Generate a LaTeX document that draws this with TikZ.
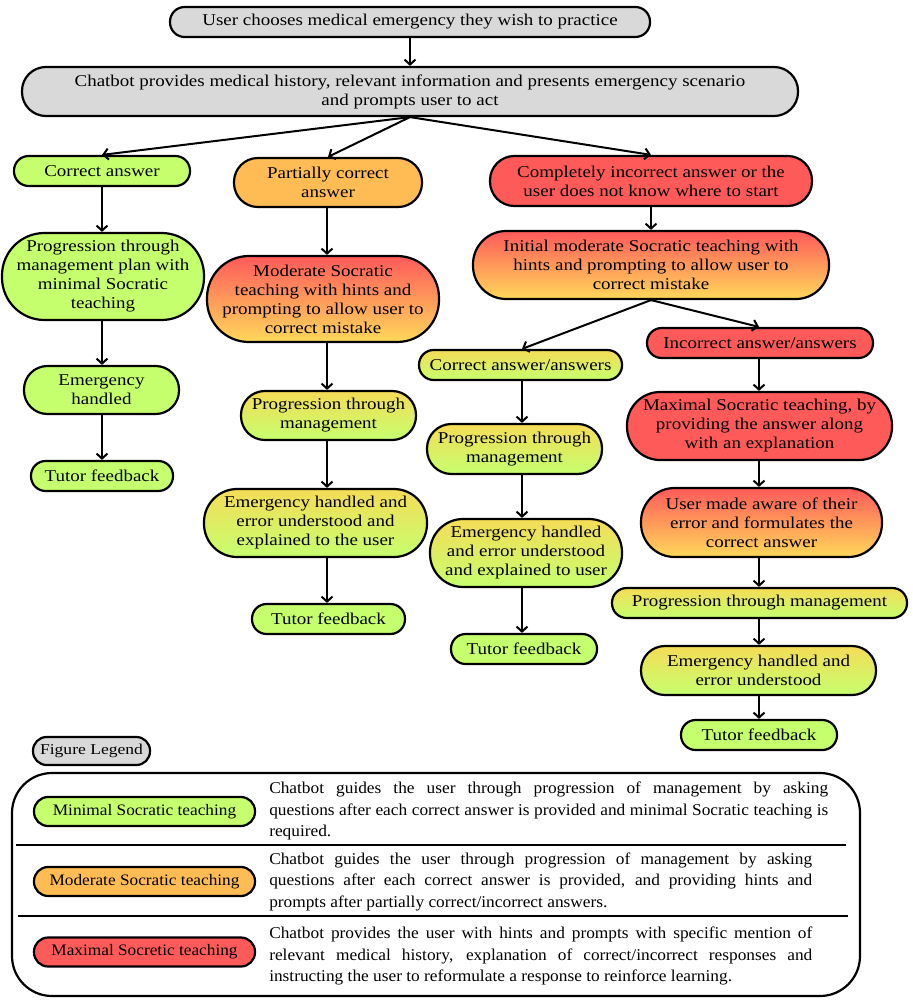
\documentclass[tikz,border=0pt]{standalone}
\usepackage{fontspec}
\setmainfont{Liberation Serif}
\newfontfamily\serf{Liberation Serif}
\usetikzlibrary{arrows.meta}
\definecolor{grayc}{HTML}{D9D9D9}
\definecolor{greenc}{HTML}{C6FF6E}
\definecolor{orangec}{HTML}{FFBC55}
\definecolor{redc}{HTML}{FF5A5A}
\definecolor{yellowc}{HTML}{FFD85A}
\definecolor{ylwc}{HTML}{F5DC57}
% one picture unit = 0.8pt
\newcommand\mainsz{\serf\fontsize{13.2}{15.2}\selectfont\addfontfeatures{FakeStretch=1.15}}
\newcommand\legsz{\serf\fontsize{13.2}{17.2}\selectfont\addfontfeatures{FakeStretch=1.05}}
\newcommand\labsz{\serf\fontsize{12.8}{12.8}\selectfont\addfontfeatures{FakeStretch=1.08}}
\newcommand\figsz{\serf\fontsize{12}{12}\selectfont\addfontfeatures{FakeStretch=1.17}}
\tikzset{
  pill/.style 2 args={draw=black, line width=1.76pt, align=center, inner sep=0pt,
    minimum width=#1*0.8pt, minimum height=#2*0.8pt, rounded corners=#2*0.39pt, font=\mainsz},
  fgray/.style={fill=grayc},
  fgreen/.style={fill=greenc},
  forange/.style={fill=orangec},
  fred/.style={fill=redc},
  rg/.style={top color=redc, bottom color=yellowc},
  yg/.style={top color=ylwc, bottom color=greenc},
  arr/.style={-{Straight Barb[length=4pt,width=8.8pt]}, line width=1.6pt},
  sep/.style={line width=1.9pt},
  legtext/.style={inner sep=0pt, align=justify, font=\legsz}
}
\begin{document}
\begin{tikzpicture}[x=0.8pt,y=-0.8pt]
\useasboundingbox (0,0) rectangle (913,1007);
% column coordinates
\coordinate (c1) at (102,0);
\coordinate (c2) at (327,0);
\coordinate (c3) at (522,0);
\coordinate (c4) at (759,0);
% nodes
\node[pill={480}{30}, fgray] (n1) at (410,22) {User chooses medical emergency they wish to practice};
\node[pill={776}{49}, fgray] (n2) at (410,91.5) {Chatbot provides medical history, relevant information and presents emergency scenario\\and prompts user to act};
\node[pill={176}{30}, fgreen] (n3) at (102,171) {Correct answer};
\node[pill={188}{49}, forange] (n4) at (328,182.5) {Partially correct\\answer};
\node[pill={322}{50}, fred] (n5) at (651,181) {Completely incorrect answer or the\\user does not know where to start};
\node[pill={202}{87}, fgreen] (n6) at (103,276.5) {Progression through\\management plan with\\minimal Socratic\\teaching};
\node[pill={232}{86}, rg] (n7) at (323,299) {Moderate Socratic\\teaching with hints and\\prompting to allow user to\\correct mistake};
\node[pill={356}{68}, rg] (n8) at (651,265) {Initial moderate Socratic teaching with\\hints and prompting to allow user to\\correct mistake};
\node[pill={203}{30}, yg] (n9) at (520.5,365) {Correct answer/answers};
\node[pill={226}{30}, fred] (n10) at (760,343) {Incorrect answer/answers};
\node[pill={155}{48}, fgreen] (n11) at (101.5,390) {Emergency\\handled};
\node[pill={175}{49}, yg] (n12) at (328.5,415.5) {Progression through\\management};
\node[pill={175}{50}, yg] (n13) at (514.5,449) {Progression through\\management};
\node[pill={265}{68}, fred] (n14) at (759.5,426) {Maximal Socratic teaching, by\\providing the answer along\\with an explanation};
\node[pill={142}{30}, fgreen] (n15) at (102,476) {Tutor feedback};
\node[pill={223}{68}, yg] (n16) at (315.5,523) {Emergency handled and\\error understood and\\explained to the user};
\node[pill={192}{68}, yg] (n17) at (526,553) {Emergency handled\\and error understood\\and explained to user};
\node[pill={241}{69}, rg] (n18) at (761.5,522.5) {User made aware of their\\error and formulates the\\correct answer};
\node[pill={295}{30}, yg] (n19) at (759.5,603) {Progression through management};
\node[pill={153}{30}, fgreen] (n20) at (328.5,619) {Tutor feedback};
\node[pill={146}{30}, fgreen] (n21) at (524,649) {Tutor feedback};
\node[pill={235}{49}, yg] (n22) at (758.5,670.5) {Emergency handled and\\error understood};
\node[pill={156}{30}, fgreen] (n23) at (759,735) {Tutor feedback};
% arrows
\draw[arr] (n1) -- (n2);
\draw[arr] (n2.south) -- (n3.north);
\draw[arr] (n2.south) -- (n4.north);
\draw[arr] (n2.south) -- (n5.north);
\draw[arr] (n3.south -| c1) -- (n6.north -| c1);
\draw[arr] (n6.south -| c1) -- (n11.north -| c1);
\draw[arr] (n11.south -| c1) -- (n15.north -| c1);
\draw[arr] (n4.south -| c2) -- (n7.north -| c2);
\draw[arr] (n7.south -| c2) -- (n12.north -| c2);
\draw[arr] (n12.south -| c2) -- (n16.north -| c2);
\draw[arr] (n16.south -| c2) -- (n20.north -| c2);
\draw[arr] (n5.south) -- (n8.north);
\draw[arr] (n8.south) -- (n9.north -| c3);
\draw[arr] (n8.south) -- (n10.north -| c4);
\draw[arr] (n9.south -| c3) -- (n13.north -| c3);
\draw[arr] (n13.south -| c3) -- (n17.north -| c3);
\draw[arr] (n17.south -| c3) -- (n21.north -| c3);
\draw[arr] (n10.south -| c4) -- (n14.north -| c4);
\draw[arr] (n14.south -| c4) -- (n18.north -| c4);
\draw[arr] (n18.south -| c4) -- (n19.north -| c4);
\draw[arr] (n19.south -| c4) -- (n22.north -| c4);
\draw[arr] (n22.south -| c4) -- (n23.north -| c4);
% legend
\node[pill={117}{28}, fgray, font=\figsz] (fl) at (91.5,751) {Figure Legend};
\draw[line width=1.76pt, rounded corners=32pt] (12,773) rectangle (860,996);
\draw[sep] (16,845) -- (846,845);
\draw[sep] (18,916) -- (848,916);
\node[pill={221}{29}, fgreen, font=\labsz] (l1) at (144.5,811.5) {Minimal Socratic teaching};
\node[pill={221}{29}, forange, font=\labsz] (l2) at (144.5,881.5) {Moderate Socratic teaching};
\node[pill={221}{29}, fred, font=\labsz] (l3) at (144.5,952) {Maximal Socretic teaching};
\node[legtext, text width=447.2pt, anchor=west] (t1) at (269,811) {Chatbot guides the user through progression of management by asking\linebreak questions after each correct answer is provided and minimal Socratic teaching is\linebreak required.};
\node[legtext, text width=434.4pt, anchor=west] (t2) at (269,881.5) {Chatbot guides the user through progression of management by asking\linebreak questions after each correct answer is provided, and providing hints and\linebreak prompts after partially correct/incorrect answers.};
\node[legtext, text width=434.4pt, anchor=west] (t3) at (269,956) {Chatbot provides the user with hints and prompts with specific mention of\linebreak relevant medical history, explanation of correct/incorrect responses and\linebreak instructing the user to reformulate a response to reinforce learning.};
\end{tikzpicture}
\end{document}
